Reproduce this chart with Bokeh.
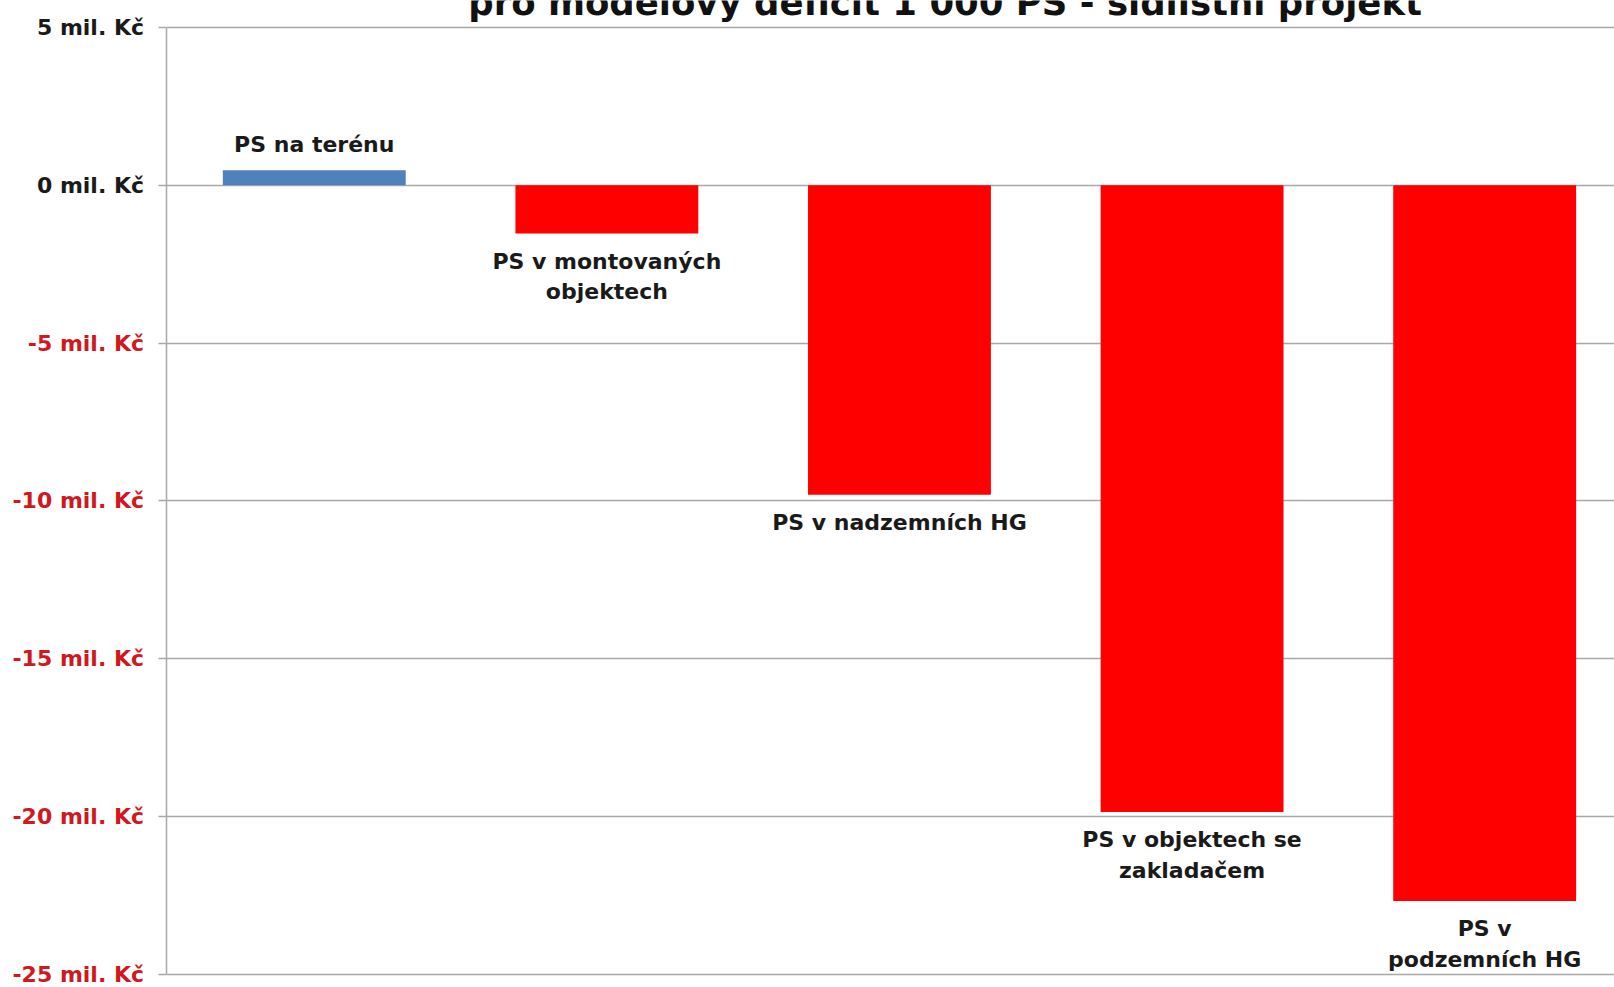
from bokeh.plotting import figure
from bokeh.layouts import row
from bokeh.models import ColumnDataSource, FixedTicker, Range1d
from bokeh.core.properties import value
from bokeh.embed import file_html
from bokeh.resources import INLINE

# ---- data ----
categories = ["PS na terénu", "PS v montovaných\nobjektech", "PS v nadzemních HG",
              "PS v objektech se\nzakladačem", "PS v\npodzemních HG"]
values = [0.48, -1.53, -9.8, -19.85, -22.67]
bar_colors = ["#4f81bd", "#ff0000", "#ff0000", "#ff0000", "#ff0000"]
y_ticks = [5, 0, -5, -10, -15, -20, -25]
y_tick_labels = ["5 mil. Kč", "0 mil. Kč", "-5 mil. Kč", "-10 mil. Kč",
                 "-15 mil. Kč", "-20 mil. Kč", "-25 mil. Kč"]
title_text = "pro modelový deficit 1 000 PS - sídlištní projekt"

FONT = "DejaVu Sans"
xs = list(range(len(categories)))
x_start, x_end = -0.505, 4.4437
H = 987
PX_PER_UNIT = 31.567
y_end = 5.855
y_start = y_end - H / PX_PER_UNIT   # frame spans the full canvas height
LEFT_W = 150

y_range = Range1d(y_start, y_end)

# ---- tick-label column (coloured per label) ----
lab = figure(width=LEFT_W, height=H, output_backend="svg", toolbar_location=None,
             x_range=Range1d(0, 1), y_range=y_range,
             x_axis_location=None, y_axis_location=None,
             min_border_left=0, min_border_right=0, min_border_top=0, min_border_bottom=0)
lab.outline_line_color = None
lab.grid.visible = False
tick_colors = ["#1a1a1a" if t >= 0 else "#d0181e" for t in y_ticks]
lsrc = ColumnDataSource(dict(x=[1] * len(y_ticks), y=y_ticks, t=y_tick_labels, c=tick_colors))
lab.text(x="x", y="y", text="t", text_color="c", source=lsrc, x_offset=-6.5,
         text_align="right", text_baseline="middle", text_font=value(FONT),
         text_font_style="bold", text_font_size="22px")

# ---- main chart ----
p = figure(width=1614 - LEFT_W, height=H, output_backend="svg", toolbar_location=None,
           x_range=Range1d(x_start, x_end), y_range=y_range,
           x_axis_location=None,
           min_border_left=16, min_border_right=0, min_border_top=0, min_border_bottom=0)
p.outline_line_color = None
p.xgrid.visible = False
p.ygrid.ticker = FixedTicker(ticks=y_ticks)
p.ygrid.grid_line_color = "#a8a8a8"
p.ygrid.grid_line_width = 1.5

yax = p.yaxis[0]
yax.ticker = FixedTicker(ticks=y_ticks)
yax.bounds = (y_ticks[-1], y_ticks[0])
yax.major_label_text_color = None
yax.major_label_text_font_size = "1px"
yax.major_label_standoff = 0
yax.major_tick_out = 8
yax.major_tick_in = 0
yax.minor_tick_line_color = None
yax.axis_line_color = "#a8a8a8"
yax.axis_line_width = 1.5
yax.major_tick_line_color = "#a8a8a8"
yax.major_tick_line_width = 1.5

src = ColumnDataSource(dict(x=xs, top=values, color=bar_colors))
p.vbar(x="x", top="top", bottom=0, width=0.625, fill_color="color", line_color=None, source=src)

pos = ColumnDataSource(dict(x=[x for x, v in zip(xs, values) if v >= 0],
                            y=[v for v in values if v >= 0],
                            t=[c for c, v in zip(categories, values) if v >= 0]))
neg = ColumnDataSource(dict(x=[x for x, v in zip(xs, values) if v < 0],
                            y=[v for v in values if v < 0],
                            t=[c for c, v in zip(categories, values) if v < 0]))
p.text(x="x", y="y", text="t", source=pos, text_align="center", text_baseline="alphabetic",
       y_offset=-26, text_font=value(FONT), text_font_style="bold", text_font_size="22px",
       text_color="#1a1a1a", text_line_height=1.23)
p.text(x="x", y="y", text="t", source=neg, text_align="center", text_baseline="top",
       y_offset=15, text_font=value(FONT), text_font_style="bold", text_font_size="22px",
       text_color="#1a1a1a", text_line_height=1.23)

tsrc = ColumnDataSource(dict(x=[2.156], y=[5.427], t=[title_text]))
p.text(x="x", y="y", text="t", source=tsrc, text_align="center", text_baseline="alphabetic",
       y_offset=-12, text_font=value(FONT), text_font_style="bold", text_font_size="35.5px",
       text_color="#111111")

layout = row(lab, p, spacing=0)
open("out.html", "w").write(file_html(layout, INLINE))
